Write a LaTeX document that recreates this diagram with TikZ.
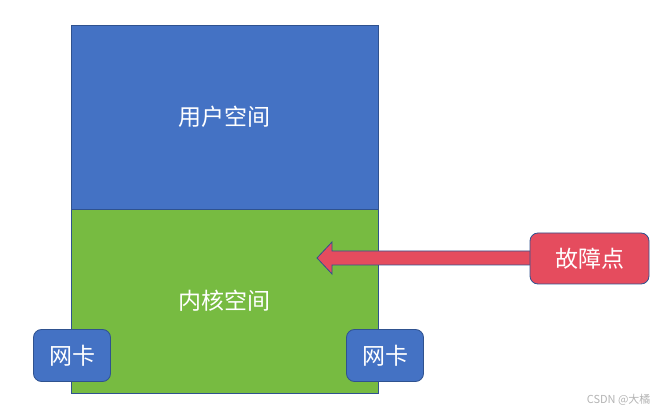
\documentclass[tikz,border=0pt]{standalone}
\usepackage{fontspec}
\setmainfont{Noto Sans CJK SC}
\usepackage{tikz}
\usetikzlibrary{positioning,calc}
\definecolor{UserBlue}{HTML}{4472C4}
\definecolor{KernelGreen}{HTML}{77BB41}
\definecolor{FaultRed}{HTML}{E54C5E}
\definecolor{Edge}{HTML}{2F528F}
\definecolor{Mark}{HTML}{B4B4B4}

\begin{document}
\begin{tikzpicture}[x=1pt,y=-1pt,
  zone/.style={draw=Edge,line width=0.8pt,outer sep=0pt,text=white,
    minimum width=307,minimum height=184,font=\fontsize{23}{27}\selectfont},
  tag/.style={draw=Edge,line width=0.8pt,rounded corners=8pt,text=white,
    font=\fontsize{23}{27}\selectfont}]
\useasboundingbox (0,0) rectangle (665,414);

% Address spaces.
\node[zone,fill=UserBlue,anchor=north west] (user) at (71,25) {用户空间};
\node[zone,fill=KernelGreen,anchor=north west] (kernel) at (user.south west) {内核空间};

% Network cards on both sides of the kernel.
\node[tag,fill=UserBlue,minimum width=77,minimum height=52] (nicL) at (72,355.5) {网卡};
\node[tag,fill=UserBlue,minimum width=77,minimum height=52] (nicR) at (385,355.5) {网卡};

% Block arrow from the fault point into the kernel.
\coordinate (hit) at (317,258);
\coordinate (tail) at (534,258);
\draw[Edge,fill=FaultRed,line width=0.8pt,line join=miter]
  ($(tail)+(0,-7)$) -- (332,251) -- (332,242) -- (hit)
  -- (332,274) -- (332,265) -- ($(tail)+(0,7)$);
\node[tag,fill=FaultRed,minimum width=119,minimum height=51] (fault) at (589.5,258.5) {故障点};

\node[text=Mark,font=\fontsize{11}{13}\selectfont,anchor=east] (mark) at (654,400) {CSDN @大橘};
\end{tikzpicture}
\end{document}
